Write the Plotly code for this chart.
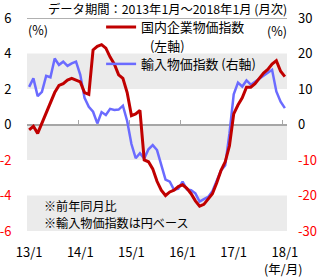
import plotly.graph_objects as go

# ---- data ----
months = [f"{y}/{m}" for y in range(2013, 2019) for m in range(1, 13)][:61]

domestic_cgpi = [  # 国内企業物価指数 (%), left axis
    -0.3, -0.1, -0.5, 0.1, 0.6, 1.2, 1.8, 2.2, 2.3, 2.5, 2.6, 2.5,
    2.4, 1.8, 1.7, 4.2, 4.4, 4.5, 4.3, 3.8, 3.4, 2.8, 2.6, 1.8,
    0.5, 0.6, 0.8, -2.0, -2.1, -2.5, -3.2, -3.7, -4.0, -3.8, -3.7, -3.5,
    -3.4, -3.6, -3.9, -4.3, -4.6, -4.5, -4.2, -3.9, -3.3, -2.6, -2.1, -1.2,
    0.6, 1.1, 1.5, 2.1, 2.1, 2.3, 2.6, 2.9, 3.1, 3.4, 3.6, 3.0,
    2.7,
]

import_price = [  # 輸入物価指数 (%), right axis
    10.6, 13.0, 8.0, 9.2, 13.7, 13.3, 18.6, 16.8, 17.7, 16.5, 17.2, 17.7,
    14.0, 7.5, 5.0, 3.6, 0.3, 3.5, 2.7, 4.4, 4.1, 4.2, 5.3, 1.0,
    -5.5, -9.5, -8.1, -9.6, -7.0, -5.8, -7.2, -11.0, -15.5, -16.1, -18.4, -18.1,
    -16.1, -18.3, -18.5, -19.4, -21.7, -21.0, -20.4, -18.8, -16.0, -13.0, -11.5, -2.5,
    8.5, 11.8, 10.7, 12.4, 11.2, 12.0, 13.0, 13.8, 14.5, 15.4, 9.3, 6.4,
    4.6,
]

x_tickvals = ["2013/1", "2014/1", "2015/1", "2016/1", "2017/1", "2018/1"]
x_ticktext = ["13/1", "14/1", "15/1", "16/1", "17/1", "18/1"]
left_tickvals = [-6, -4, -2, 0, 2, 4, 6]
right_tickvals = [-30, -20, -10, 0, 10, 20, 30]

RED = "#c00000"
BLUE = "#6b6bff"
NEG = "#ff0000"
FONT = "Noto Sans CJK JP"


def colored(vals):
    return [f'<span style="color:{NEG}">{v}</span>' if v < 0 else str(v) for v in vals]


fig = go.Figure()
fig.add_trace(go.Scatter(
    x=months, y=import_price, name="輸入物価指数 (右軸)",
    mode="lines", line=dict(color=BLUE, width=2.5),
    xaxis="x", yaxis="y", legend="legend2",
))
fig.add_trace(go.Scatter(
    x=months, y=domestic_cgpi, name="国内企業物価指数",
    mode="lines", line=dict(color=RED, width=3),
    xaxis="x2", yaxis="y2", legend="legend",
))

# alternating bands and top line
for y0, y1 in [(2, 4), (0, -2), (-4, -6)]:
    fig.add_shape(type="rect", xref="paper", yref="y2", x0=0, x1=1, y0=y0, y1=y1,
                  fillcolor="#ebebeb", line_width=0, layer="below")
fig.add_shape(type="line", xref="paper", yref="y2", x0=0, x1=1, y0=6, y1=6,
              line=dict(color="#b0b0b0", width=2), layer="below")

fig.update_layout(
    width=320, height=277,
    margin=dict(l=27, r=33, t=18, b=46, autoexpand=False),
    paper_bgcolor="white", plot_bgcolor="rgba(0,0,0,0)",
    font=dict(family=FONT, size=13, color="#000000"),
    xaxis=dict(type="category", range=[-0.5, 60.5], tickmode="array",
               tickvals=x_tickvals, ticktext=x_ticktext, showgrid=False,
               showline=False, zeroline=False, ticks="outside", ticklen=9,
               tickcolor="rgba(0,0,0,0)", tickfont=dict(size=13)),
    xaxis2=dict(type="category", range=[-0.5, 60.5], overlaying="x",
                anchor="free", position=0.5, tickmode="array",
                tickvals=x_tickvals, showticklabels=False, tickson="boundaries",
                ticks="inside", ticklen=4, tickcolor="#a6a6a6", tickwidth=1,
                showline=True, linecolor="#a6a6a6", linewidth=1.5,
                showgrid=False, zeroline=False, layer="below traces"),
    yaxis=dict(side="right", range=[-30, 30], tickmode="array",
               tickvals=right_tickvals, ticktext=colored(right_tickvals),
               showgrid=False, zeroline=False, showline=False, ticks="",
               ticklabelstandoff=10, tickfont=dict(size=13)),
    yaxis2=dict(side="left", overlaying="y", anchor="free", position=0,
                range=[-6, 6], tickmode="array", tickvals=left_tickvals,
                ticktext=colored(left_tickvals), showgrid=False,
                zeroline=False, showline=False, ticks="outside", ticklen=13,
                tickcolor="rgba(0,0,0,0)", tickfont=dict(size=13)),
    legend=dict(x=0.285, y=0.957, xanchor="left", yanchor="middle",
                bgcolor="rgba(0,0,0,0)", font=dict(size=12.9),
                itemwidth=30, tracegroupgap=0),
    legend2=dict(x=0.285, y=0.784, xanchor="left", yanchor="middle",
                 bgcolor="rgba(0,0,0,0)", font=dict(size=12.9),
                 itemwidth=30, tracegroupgap=0),
    showlegend=True,
)

ann = [
    dict(text="データ期間：2013年1月～2018年1月 (月次)", x=0.54, y=1.040,
         font=dict(size=12.3)),
    dict(text="(左軸)", x=0.5405, y=0.870, font=dict(size=12.9)),
    dict(text="(%)", x=0.041, y=0.944, font=dict(size=12.5)),
    dict(text="(%)", x=0.963, y=0.939, font=dict(size=12.5)),
    dict(text="(年/月)", x=0.984, y=-0.178, font=dict(size=12.5)),
    dict(text="※前年同月比", x=0.06, y=0.1197, xanchor="left", font=dict(size=12.1)),
    dict(text="※輸入物価指数は円ベース", x=0.06, y=0.0376, xanchor="left",
         font=dict(size=12.1)),
]
for a in ann:
    a.setdefault("xanchor", "center")
    fig.add_annotation(xref="paper", yref="paper", yanchor="middle",
                       showarrow=False, borderpad=0, **a)

fig.write_html("out.html")
